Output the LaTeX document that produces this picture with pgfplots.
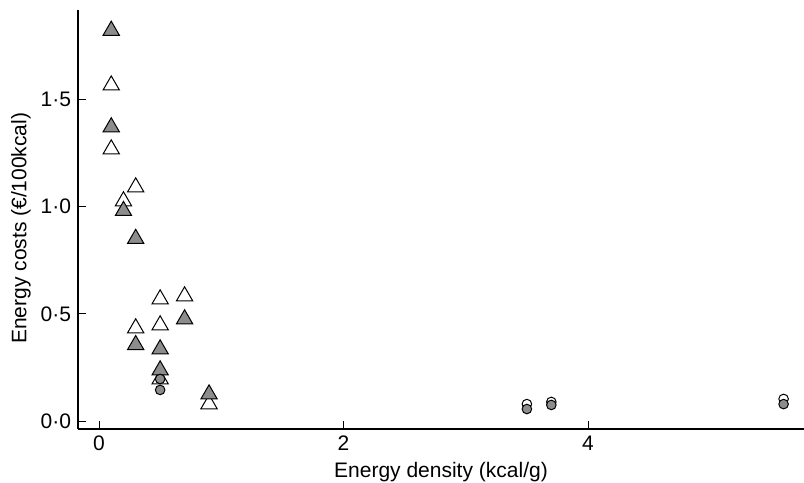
\documentclass[border=0pt]{standalone}
\usepackage{fontspec}
\setmainfont{Liberation Sans}
\usepackage{pgfplots}
\pgfplotsset{compat=1.18}
\definecolor{markgray}{HTML}{8C8C8C}

\begin{document}
\begin{tikzpicture}
\begin{axis}[
    scale only axis,
    width=363pt, height=209.5pt,
    xmin=-0.172, xmax=5.767,
    ymin=-0.037, ymax=1.916,
    axis x line*=bottom, axis y line*=left,
    axis line style={line width=0.6pt, -},
    tick align=inside,
    major tick length=4pt,
    tick style={line width=0.5pt, black},
    xtick={0,2,4}, xticklabels={0,2,4},
    ytick={0,0.5,1,1.5}, yticklabels={0·0,0·5,1·0,1·5},
    tick label style={font=\fontsize{10.5}{12}\selectfont},
    label style={font=\fontsize{10.5}{12}\selectfont},
    xlabel={Energy density (kcal/g)},
    ylabel={Energy costs (€/100kcal)},
    ylabel style={at={(ticklabel cs:0.479)}},
    ylabel shift=-2pt,
    xlabel shift=-1pt,
    clip=false,
]
% open triangles
\addplot[only marks, mark=triangle*, mark size=4.7pt,
    mark options={fill=white, draw=black, line width=0.5pt}] coordinates {
    (0.1,1.565) (0.1,1.267) (0.3,1.09) (0.2,1.025)
    (0.3,0.433) (0.5,0.568) (0.5,0.447) (0.7,0.582)
    (0.5,0.195) (0.9,0.079)
};
% grey triangles
\addplot[only marks, mark=triangle*, mark size=4.7pt,
    mark options={fill=markgray, draw=black, line width=0.5pt}] coordinates {
    (0.1,1.82) (0.1,1.37) (0.2,0.98) (0.3,0.85)
    (0.3,0.355) (0.5,0.335) (0.5,0.237) (0.7,0.475)
    (0.9,0.125)
};
% open circles
\addplot[only marks, mark=*, mark size=2.4pt,
    mark options={fill=white, draw=black, line width=0.5pt}] coordinates {
    (3.5,0.079) (3.7,0.089) (5.6,0.103)
};
% grey circles
\addplot[only marks, mark=*, mark size=2.4pt,
    mark options={fill=markgray, draw=black, line width=0.5pt}] coordinates {
    (0.5,0.196) (0.5,0.145)
    (3.5,0.056) (3.7,0.075) (5.6,0.079)
};
\path (rel axis cs:0,0) coordinate (BL) (rel axis cs:1,1) coordinate (TR);
\end{axis}
\pgfresetboundingbox
\path[use as bounding box] ([xshift=-39pt,yshift=-27pt]BL) rectangle ([yshift=5pt]TR);
\end{tikzpicture}
\end{document}
